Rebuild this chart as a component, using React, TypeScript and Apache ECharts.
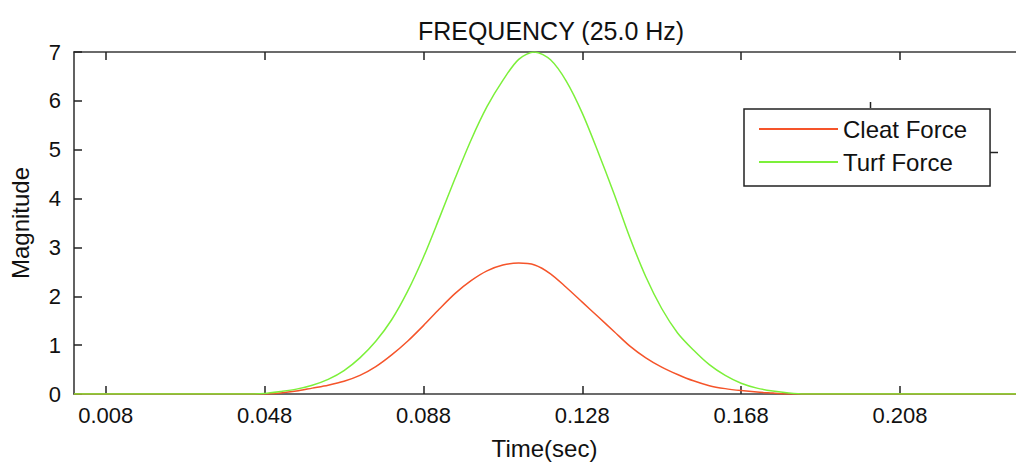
import React, { useEffect, useRef } from "react";
import * as echarts from "echarts";

const TITLE = "FREQUENCY (25.0 Hz)";
const SERIES_NAMES = ["Cleat Force", "Turf Force"];
const X_TICKS = [0.008, 0.048, 0.088, 0.128, 0.168, 0.208];
const Y_TICKS = [0, 1, 2, 3, 4, 5, 6, 7];

const times = [
  0, 0.044, 0.048, 0.052, 0.056, 0.06, 0.064, 0.068, 0.072, 0.076, 0.08, 0.084,
  0.088, 0.092, 0.096, 0.1, 0.104, 0.108, 0.112, 0.116, 0.12, 0.124, 0.128,
  0.132, 0.136, 0.14, 0.144, 0.148, 0.152, 0.156, 0.16, 0.164, 0.168, 0.172,
  0.176, 0.18, 0.184, 0.24,
];

const cleat = [
  0, 0, 0.0, 0.02, 0.06, 0.12, 0.18, 0.26, 0.38, 0.56, 0.8, 1.08, 1.4, 1.74,
  2.06, 2.32, 2.52, 2.64, 2.68, 2.64, 2.46, 2.18, 1.88, 1.58, 1.28, 0.98, 0.74,
  0.55, 0.4, 0.27, 0.17, 0.11, 0.07, 0.04, 0.02, 0.0, 0, 0,
];

const turf = [
  0, 0, 0.01, 0.05, 0.1, 0.18, 0.3, 0.48, 0.74, 1.08, 1.52, 2.1, 2.8, 3.6,
  4.42, 5.2, 5.88, 6.42, 6.85, 7.0, 6.84, 6.4, 5.75, 4.95, 4.1, 3.2, 2.4, 1.75,
  1.25, 0.9, 0.6, 0.38, 0.22, 0.12, 0.06, 0.02, 0, 0,
];

const FONT = "'Liberation Sans', Arial, sans-serif";
const AXIS_COLOR = "#3a3a3a";
const RED = "#f5542a";
const GREEN = "#7cf03a";

export default function App() {
  const ref = useRef<HTMLDivElement>(null);

  useEffect(() => {
    if (!ref.current) return;
    const chart = echarts.init(ref.current, undefined, { renderer: "svg" });

    const axisLine = { show: true, onZero: false, lineStyle: { color: AXIS_COLOR, width: 1.6 } };
    const tickStyle = { show: true, inside: true, length: 8, lineStyle: { color: "#222", width: 1.5 } };

    chart.setOption({
      animation: false,
      backgroundColor: "#fff",
      title: {
        text: TITLE,
        left: 546,
        textAlign: "center",
        top: 13,
        textStyle: { fontFamily: FONT, fontSize: 25, fontWeight: "normal", color: "#111" },
      },
      legend: {
        orient: "vertical",
        left: 744,
        top: 109,
        data: SERIES_NAMES,
        icon: "rect",
        itemWidth: 79,
        itemHeight: 2,
        itemGap: 9,
        padding: [8, 23, 12, 15],
        borderColor: "#222",
        borderWidth: 1.5,
        borderRadius: 0,
        backgroundColor: "#fff",
        textStyle: { fontFamily: FONT, fontSize: 24, color: "#111" },
      },
      grid: { left: 73, right: 3, top: 52, bottom: 73, containLabel: false },
      xAxis: [
        {
          type: "value",
          min: 0,
          max: 0.24,
          position: "bottom",
          name: "Time(sec)",
          nameLocation: "middle",
          nameGap: 42,
          nameTextStyle: { fontFamily: FONT, fontSize: 24, color: "#111", padding: [0, 12, 0, 0] },
          axisLine,
          axisTick: { ...tickStyle, customValues: X_TICKS },
          axisLabel: {
            customValues: X_TICKS,
            formatter: (v: number) => v.toFixed(3),
            fontFamily: FONT,
            fontSize: 22,
            color: "#111",
            margin: 10,
          },
          splitLine: { show: false },
        },
        {
          type: "value",
          min: 0,
          max: 0.24,
          position: "top",
          axisLine,
          axisTick: { ...tickStyle, customValues: X_TICKS },
          axisLabel: { show: false },
          splitLine: { show: false },
        },
      ],
      yAxis: [
        {
          type: "value",
          min: 0,
          max: 7,
          interval: 1,
          position: "left",
          name: "Magnitude",
          nameLocation: "middle",
          nameGap: 42,
          nameTextStyle: { fontFamily: FONT, fontSize: 24, color: "#111" },
          axisLine,
          axisTick: tickStyle,
          axisLabel: {
            fontFamily: FONT,
            fontSize: 22,
            color: "#111",
            margin: 13,
            formatter: (v: number) => (Y_TICKS.includes(v) ? String(v) : ""),
          },
          splitLine: { show: false },
        },
        {
          type: "value",
          min: 0,
          max: 7,
          interval: 1,
          position: "right",
          axisLine,
          axisTick: tickStyle,
          axisLabel: { show: false },
          splitLine: { show: false },
        },
      ],
      series: [
        {
          name: SERIES_NAMES[0],
          type: "line",
          data: times.map((t, i) => [t, cleat[i]]),
          showSymbol: false,
          symbol: "none",
          smooth: 0.3,
          lineStyle: { color: RED, width: 1.5 },
          itemStyle: { color: RED },
          z: 2,
        },
        {
          name: SERIES_NAMES[1],
          type: "line",
          data: times.map((t, i) => [t, turf[i]]),
          showSymbol: false,
          symbol: "none",
          smooth: 0.3,
          lineStyle: { color: GREEN, width: 1.5 },
          itemStyle: { color: GREEN },
          z: 3,
        },
      ],
      graphic: [
        { type: "line", shape: { x1: 870.5, y1: 102, x2: 870.5, y2: 108 }, style: { stroke: "#222", lineWidth: 1.5 } },
        { type: "line", shape: { x1: 989, y1: 152.5, x2: 998, y2: 152.5 }, style: { stroke: "#222", lineWidth: 1.5 } },
      ],
    });

    return () => chart.dispose();
  }, []);

  return (
    <div
      style={{
        position: "fixed",
        left: 0,
        top: 0,
        width: 1016,
        height: 467,
        overflow: "hidden",
        background: "#fff",
      }}
    >
      <div ref={ref} style={{ width: 1030, height: 467 }} />
    </div>
  );
}
